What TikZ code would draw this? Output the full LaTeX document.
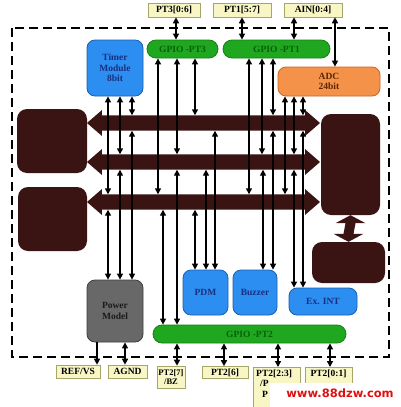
\documentclass[tikz,border=0pt]{standalone}
\usepackage{fontspec}
\setmainfont{Liberation Serif}
\newfontfamily\wmfont{DejaVu Sans}
\usetikzlibrary{arrows.meta}
\definecolor{blueF}{HTML}{2B8EF0}
\definecolor{blueD}{HTML}{1A5FB0}
\definecolor{blueT}{HTML}{1A2F80}
\definecolor{greenF}{HTML}{1FA81F}
\definecolor{greenD}{HTML}{168016}
\definecolor{greenT}{HTML}{0B5E0B}
\definecolor{orangeF}{HTML}{F5924A}
\definecolor{orangeD}{HTML}{C9651F}
\definecolor{orangeT}{HTML}{5A2500}
\definecolor{grayF}{HTML}{686868}
\definecolor{grayD}{HTML}{3E3E3E}
\definecolor{grayT}{HTML}{1A1A1A}
\definecolor{darkF}{HTML}{3A1313}
\definecolor{labF}{HTML}{F7F6C4}
\definecolor{labD}{HTML}{A6A66A}
\definecolor{wmred}{HTML}{E01010}
\begin{document}
\begin{tikzpicture}[x=1pt,y=-1pt,
  every node/.style={inner sep=0pt, font=\bfseries\fontsize{9.5}{10.5}\selectfont},
  blk/.style={rounded corners=8pt, line width=0.8pt},
  bluebox/.style={blk, fill=blueF, draw=blueD, text=blueT, align=center},
  gpio/.style={rounded corners=9pt, line width=0.8pt, fill=greenF, draw=greenD, text=greenT},
  adcbox/.style={blk, fill=orangeF, draw=orangeD, text=orangeT, align=center},
  powbox/.style={blk, fill=grayF, draw=grayD, text=grayT, align=center},
  darkbox/.style={rounded corners=10pt, fill=darkF},
  pin/.style={fill=labF, draw=labD, line width=0.6pt, text=black},
  busbody/.style={minimum height=15pt},
  bi/.style={{Triangle[length=6pt,width=6pt]}-{Triangle[length=6pt,width=6pt]}, line width=1.4pt},
  uni/.style={-{Triangle[length=6pt,width=6pt]}, line width=1.4pt},
  frame/.style={line width=2pt, dash pattern=on 9pt off 5pt}
]
\useasboundingbox (0,0) rectangle (401,407);
\clip (0,0) rectangle (401,407);
\fill[white] (0,0) rectangle (401,407);

% dashed chip boundary
\draw[frame] (12,28) rectangle (389,357);

% top pins
\node[pin, minimum width=52pt, minimum height=14pt] (pt3) at (174,10) {PT3[0:6]};
\node[pin, minimum width=58pt, minimum height=14pt] (pt1) at (242,10) {PT1[5:7]};
\node[pin, minimum width=58pt, minimum height=14pt] (ain) at (313,10) {AIN[0:4]};

% blocks
\node[bluebox, minimum width=56pt, minimum height=56pt] (timer) at (115,68) {Timer\\Module\\8bit};
\node[gpio, minimum width=71pt, minimum height=18pt] (gp3) at (182.5,49) {GPIO -PT3};
\node[gpio, minimum width=107pt, minimum height=18pt] (gp1) at (276.5,49) {GPIO -PT1};
\node[adcbox, minimum width=102pt, minimum height=29pt] (adc) at (329,81.5) {ADC\\24bit};
\node[darkbox, minimum width=70pt, minimum height=64pt] (dmA) at (52,141) {};
\node[darkbox, minimum width=69pt, minimum height=64pt] (dmB) at (52.5,219) {};
\node[darkbox, minimum width=59pt, minimum height=101pt] (cpu) at (350.5,164.5) {};
\node[darkbox, minimum width=73pt, minimum height=41pt] (low) at (348.5,262.5) {};
\node[powbox, minimum width=56pt, minimum height=62pt] (pow) at (115,311) {Power\\Model};
\node[bluebox, minimum width=45pt, minimum height=45pt] (pdm) at (205.5,292.5) {PDM};
\node[bluebox, minimum width=44pt, minimum height=45pt] (buz) at (255,292.5) {Buzzer};
\node[bluebox, minimum width=68pt, minimum height=27pt] (exint) at (323,301.5) {Ex. INT};
\node[gpio, minimum width=193pt, minimum height=18pt] (gp2) at (249.5,334) {GPIO -PT2};

% bottom pins
\node[pin, minimum width=44pt, minimum height=13pt] (ref) at (78,371.5) {REF/VS};
\node[pin, minimum width=39pt, minimum height=13pt] (agnd) at (127.5,371.5) {AGND};
\node[pin, minimum width=28pt, minimum height=22pt, align=center, font=\bfseries\fontsize{8.5}{9.5}\selectfont] (p27) at (171,377) {PT2[7]\\/BZ};
\node[pin, minimum width=46pt, minimum height=12pt] (p26) at (225,372.5) {PT2[6]};
\node[pin, minimum width=47pt, minimum height=50pt, anchor=north] (p23) at (276.5,367) {};
\node[anchor=north west, align=left, font=\bfseries\fontsize{9.5}{10.5}\selectfont] (p23t) at (256,369.5) {PT2[2:3]\\\hspace*{4pt}/P\\\hspace*{6pt}P};
\node[pin, minimum width=47pt, minimum height=50pt, anchor=north] (p01) at (328.5,367) {};
\node[anchor=north, font=\bfseries\fontsize{9.5}{10.5}\selectfont] (p01t) at (328.5,369.5) {PT2[0:1]};

% buses
\foreach \n/\y in {bus1/123, bus2/162, bus3/202}{
  \node[busbody, minimum width=203pt] (\n) at (203.5,\y) {};
  \fill[darkF] (87,\y) -- (102,\y-13) -- (\n.north west) -- (\n.north east) -- (305,\y-13)
    -- (320,\y) -- (305,\y+13) -- (\n.south east) -- (\n.south west) -- (102,\y+13) -- cycle;
}
% fat vertical link cpu <-> lower block
\coordinate (va) at (cpu.south);
\coordinate (vb) at (low.north);
\fill[darkF] (va) -- ([xshift=15pt,yshift=-8pt]va) -- ([xshift=5pt,yshift=-8pt]va)
  -- ([xshift=5pt,yshift=8pt]vb) -- ([xshift=15pt,yshift=8pt]vb) -- (vb)
  -- ([xshift=-15pt,yshift=8pt]vb) -- ([xshift=-5pt,yshift=8pt]vb)
  -- ([xshift=-5pt,yshift=-8pt]va) -- ([xshift=-15pt,yshift=-8pt]va) -- cycle;

% pin connectors
\draw[bi] (176,0 |- pt3.south) -- (176,0 |- gp3.north);
\draw[bi] (242,0 |- pt1.south) -- (242,0 |- gp1.north);
\draw[bi] (294,0 |- ain.south) -- (294,0 |- gp1.north);
\draw[bi] (335,0 |- ain.south) -- (335,0 |- adc.north);
\draw[uni] (97,0 |- pow.south) -- (97,0 |- ref.north);
\draw[bi] (125,0 |- pow.south) -- (125,0 |- agnd.north);
\draw[bi] (177,0 |- gp2.south) -- (177,0 |- p27.north);
\draw[bi] (224,0 |- gp2.south) -- (224,0 |- p26.north);
\draw[bi] (278,0 |- gp2.south) -- (278,0 |- p23.north);
\draw[bi] (330,0 |- gp2.south) -- (330,0 |- p01.north);

% upper blocks to buses
\foreach \x/\b in {108/bus3, 120/bus2, 132/bus1}
  \draw[bi] (\x,0 |- timer.south) -- (\x,0 |- \b.north);
\foreach \x/\b in {158/bus3, 177/bus2, 195/bus1}
  \draw[bi] (\x,0 |- gp3.south) -- (\x,0 |- \b.north);
\foreach \x/\b in {249/bus3, 262/bus2, 273/bus1}
  \draw[bi] (\x,0 |- gp1.south) -- (\x,0 |- \b.north);
\foreach \x/\b in {285/bus3, 294/bus2, 303/bus1}
  \draw[bi] (\x,0 |- adc.south) -- (\x,0 |- \b.north);

% lower blocks to buses
\foreach \x/\b in {108/bus3, 120/bus2, 132/bus1}
  \draw[bi] (\x,0 |- \b.south) -- (\x,0 |- pow.north);
\foreach \x/\b in {163/bus3, 177/bus2}
  \draw[bi] (\x,0 |- \b.south) -- (\x,0 |- gp2.north);
\foreach \x/\b in {195/bus3, 206/bus2, 215/bus1}
  \draw[bi] (\x,0 |- \b.south) -- (\x,0 |- pdm.north);
\foreach \x/\b in {263/bus2, 273/bus1}
  \draw[bi] (\x,0 |- \b.south) -- (\x,0 |- buz.north);
\foreach \x/\b in {294/bus2, 303/bus1}
  \draw[bi] (\x,0 |- \b.south) -- (\x,0 |- exint.north);

% watermark
\fill[white] (270,383) rectangle (401,407);
\node[text=wmred, font=\wmfont\bfseries\fontsize{11.5}{12}\selectfont] (wm) at (340,393.5) {www.88dzw.com};
\end{tikzpicture}
\end{document}
